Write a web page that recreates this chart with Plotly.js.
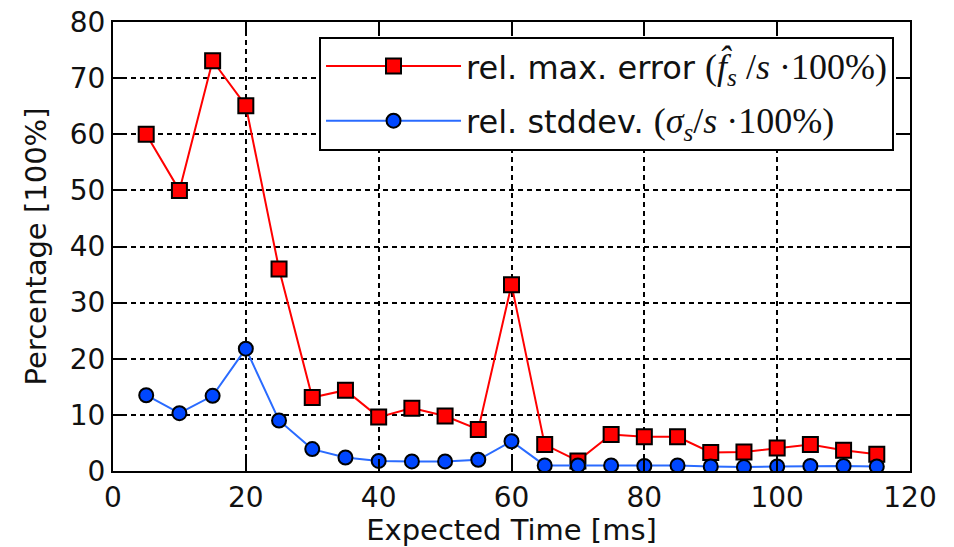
<!DOCTYPE html>
<html>
<head>
<meta charset="utf-8">
<script src="https://cdn.plot.ly/plotly-3.0.1.min.js"></script>
<style>
  html, body { margin: 0; padding: 0; background: #fff; }
  #chart { width: 954px; height: 547px; }
</style>
</head>
<body>
<div id="chart"></div>
<script>
// Expected time (ms) for each measurement
const expectedTime = [5, 10, 15, 20, 25, 30, 35, 40, 45, 50, 55, 60,
                      65, 70, 75, 80, 85, 90, 95, 100, 105, 110, 115];

// Relative maximum error (%)
const relMaxError = [60, 50, 73.1, 65.1, 36.0, 13.1, 14.4, 9.6, 11.2, 9.8, 7.4, 33.2,
                     4.7, 1.8, 6.5, 6.1, 6.1, 3.3, 3.4, 4.1, 4.7, 3.7, 3.0];

// Relative standard deviation (%)
const relStdDev = [13.5, 10.3, 13.4, 21.8, 9.0, 3.9, 2.4, 1.8, 1.7, 1.7, 2.0, 5.3,
                   1.0, 1.0, 1.0, 0.9, 1.0, 0.8, 0.7, 0.8, 0.9, 0.9, 0.8];

const xTicks = [0, 20, 40, 60, 80, 100, 120];
const yTicks = [0, 10, 20, 30, 40, 50, 60, 70, 80];

// Math parts of the legend labels are set in a serif face, slightly larger
const serif = "font-family:'Liberation Serif','DejaVu Serif',serif;font-size:36px";
const nameMaxErr = "rel. max. error <span style=\"" + serif + "\">(<i>f\u0302<sub>s</sub></i> /<i>s</i> \u00b7100%)</span>";
const nameStd = "rel. stddev. <span style=\"" + serif + "\">(<i>\u03c3<sub>s</sub></i>/<i>s</i> \u00b7100%)</span>";

const traces = [
  {
    x: expectedTime, y: relMaxError, name: nameMaxErr,
    type: 'scatter', mode: 'lines+markers', legendgroup: 'a',
    line: { color: '#ff0000', width: 2 },
    marker: { symbol: 'square', size: 15, color: '#ff0000', line: { color: '#000', width: 2 } }
  },
  {
    x: expectedTime, y: relStdDev, name: nameStd,
    type: 'scatter', mode: 'lines+markers', legendgroup: 'b',
    line: { color: '#2a6bff', width: 2 },
    marker: { symbol: 'circle', size: 14, color: '#0047ff', line: { color: '#000', width: 2 } }
  }
];

const axisCommon = {
  showline: true, linecolor: '#000', linewidth: 2, mirror: 'ticks',
  ticks: 'inside', ticklen: 12, tickwidth: 2, tickcolor: '#000',
  showgrid: true, gridcolor: '#000', gridwidth: 2, griddash: '5px,4px',
  zeroline: false,
  tickfont: { family: 'DejaVu Sans', size: 28, color: '#111' }
};

const layout = {
  width: 954, height: 547,
  margin: { l: 113, r: 44, t: 22, b: 76 },
  paper_bgcolor: '#fff', plot_bgcolor: '#fff',
  font: { family: 'DejaVu Sans', color: '#111' },
  showlegend: true,
  legend: {
    x: 0.2585, y: 0.967, xanchor: 'left', yanchor: 'top',
    bgcolor: '#fff', bordercolor: '#000', borderwidth: 2,
    font: { family: 'DejaVu Sans', size: 32, color: '#111' },
    traceorder: 'grouped', tracegroupgap: 10, itemwidth: 135
  },
  xaxis: Object.assign({}, axisCommon, {
    range: [0, 120], tickmode: 'array', tickvals: xTicks, ticktext: xTicks.map(String),
    title: { text: 'Expected Time [ms]', font: { family: 'DejaVu Sans', size: 29, color: '#111' }, standoff: 4 }
  }),
  yaxis: Object.assign({}, axisCommon, {
    range: [0, 80], tickmode: 'array', tickvals: yTicks, ticktext: yTicks.map(String),
    title: { text: 'Percentage [100%]', font: { family: 'DejaVu Sans', size: 29, color: '#111' }, standoff: 15 }
  })
};

Plotly.newPlot('chart', traces, layout, { displayModeBar: false, staticPlot: true });
</script>
</body>
</html>
